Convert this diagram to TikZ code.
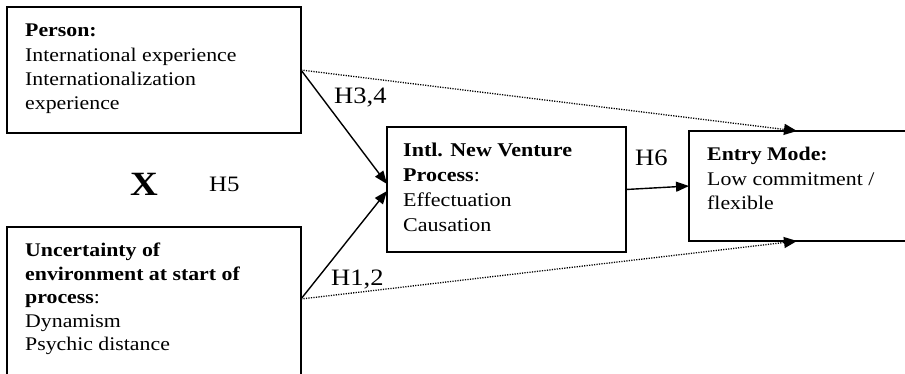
\documentclass[tikz,border=0pt]{standalone}
\usepackage{fontspec}
\setmainfont{Liberation Serif}[FakeStretch=1.13]
\usetikzlibrary{arrows.meta,calc}
\begin{document}
\begin{tikzpicture}[x=1pt,y=-1pt,
  box/.style={draw,line width=1.6pt,inner sep=0pt,outer sep=0pt},
  txt/.style={anchor=base west,align=left,inner sep=0pt,font=\fontsize{19.3}{24.3}\selectfont},
  lab/.style={anchor=base west,inner sep=0pt,font=\fontsize{23.5}{28}\selectfont},
  arr/.style={line width=1.4pt,-{Triangle[length=13pt,width=10pt]}},
  dotarr/.style={line width=1.3pt,dash pattern=on 1.2pt off 1.3pt,-{Triangle[length=13pt,width=11pt]}}]
\useasboundingbox (0,0) rectangle (905,374);
% boxes
\node[box,minimum width=294pt,minimum height=126pt] (person) at (154,70) {};
\node[box,minimum width=294pt,minimum height=163pt] (uncert) at (154,308.5) {};
\node[box,minimum width=239pt,minimum height=125pt] (intl) at (506.5,189.5) {};
\node[box,minimum width=236pt,minimum height=110pt] (entry) at (807,186) {};
% texts (base anchor = baseline of last line)
\node[txt,font=\fontsize{19.3}{24.4}\selectfont] (ptext) at (25,109.9) {\textbf{Person:}\\International experience\\Internationalization\\experience};
\node[txt,font=\fontsize{19.3}{23.6}\selectfont] (utext) at (25,350.9) {\textbf{Uncertainty of}\\\textbf{environment at start of}\\\textbf{process}:\\Dynamism\\Psychic distance};
\node[txt,font=\fontsize{19.5}{25}\selectfont] (itext) at (403,232) {\textbf{Intl. New Venture}\\\textbf{Process}:\\Effectuation\\Causation};
\node[txt,font=\fontsize{19.3}{24.5}\selectfont] (etext) at (707,210) {\textbf{Entry Mode:}\\Low commitment /\\flexible};
% labels
\node[lab] (h34) at (334,104) {H3,4};
\node[lab] (h12) at (331,285) {H1,2};
\node[lab] (h6) at (635,166) {H6};
\node[lab,font=\fontsize{22}{26}\selectfont] (h5) at (209,192) {H5};
\node[lab,font=\bfseries\fontsize{34}{40}\selectfont] (x) at (130,196) {X};
% connectors
\coordinate (u1) at ($(uncert.north east)+(0,72)$);
\draw[arr] (person.east) -- ($(intl.west)+(0,-5.5)$);
\draw[arr] (u1) -- ($(intl.west)+(0,1.5)$);
\draw[arr] (intl.east) -- (entry.west);
\draw[dotarr] (person.east) -- ($(entry.north west)+(108,0)$);
\draw[dotarr] (u1) -- ($(entry.south west)+(108,0)$);
\end{tikzpicture}
\end{document}
